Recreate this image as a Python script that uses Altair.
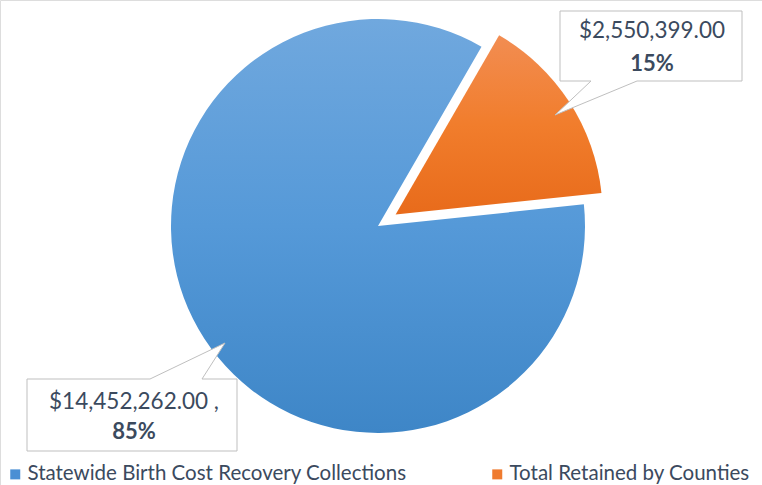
import math
import altair as alt
import pandas as pd

# ---- data ----
categories = ["Statewide Birth Cost Recovery Collections", "Total Retained by Counties"]
amounts = [14452262.00, 2550399.00]
amount_labels = ["$14,452,262.00 ,", "$2,550,399.00"]

legend_colors = ["#4a8fd4", "#ef7b2f"]

# ---- layout (pixels) ----
W, H = 762, 485
CX, CY, R = 378, 226, 207
START_DEG = 84.0          # blue slice begins here (clockwise from 12 o'clock)
EXPLODE = 21
FONT = "Lato"
TXT = "#3b4a5e"

total = sum(amounts)
a0 = math.radians(START_DEG)
frac_blue = amounts[0] / total
frac_orange = amounts[1] / total
mid = a0 + 2 * math.pi * (frac_blue + frac_orange / 2)
ox = EXPLODE * math.sin(mid)
oy = -EXPLODE * math.cos(mid)

pcts = [f"{round(100 * a / total)}%" for a in amounts]

df = pd.DataFrame({"category": categories, "amount": amounts, "order": [0, 1]})

theta_scale = alt.Scale(domain=[0, total], range=[a0, a0 + 2 * math.pi])

base = alt.Chart(df).transform_stack(
    stack="amount", groupby=[], as_=["start", "end"], sort=[alt.SortField("order")]
)

blue_grad = alt.LinearGradient(
    gradient="linear", x1=0, x2=0, y1=0, y2=1,
    stops=[alt.GradientStop(offset=0, color="#70a8de"),
           alt.GradientStop(offset=0.5, color="#5599d8"),
           alt.GradientStop(offset=1, color="#3e86c7")],
)
orange_grad = alt.LinearGradient(
    gradient="linear", x1=0, x2=0, y1=0, y2=1,
    stops=[alt.GradientStop(offset=0, color="#f28d52"),
           alt.GradientStop(offset=0.5, color="#f17d2c"),
           alt.GradientStop(offset=1, color="#e86b1b")],
)

blue = base.transform_filter(alt.datum.order == 0).mark_arc(
    outerRadius=R, fill=blue_grad
).encode(
    theta=alt.Theta("start:Q", scale=theta_scale),
    theta2="end:Q",
    x=alt.value(CX), y=alt.value(CY),
)

orange = base.transform_filter(alt.datum.order == 1).mark_arc(
    outerRadius=R, fill=orange_grad
).encode(
    theta=alt.Theta("start:Q", scale=theta_scale),
    theta2="end:Q",
    x=alt.value(CX + ox), y=alt.value(CY + oy),
)

legend_layer = alt.Chart(df).mark_square(opacity=0).encode(
    x=alt.value(0), y=alt.value(0),
    color=alt.Color(
        "category:N",
        scale=alt.Scale(domain=categories, range=legend_colors),
        legend=alt.Legend(
            title=None, orient="none", direction="horizontal",
            legendX=5, legendY=464,
            symbolType="square", symbolSize=100, symbolOpacity=1, symbolStrokeWidth=0,
            labelFont=FONT, labelFontSize=20.5, labelColor=TXT, labelLimit=500,
            labelOffset=2, columnPadding=80,
        ),
    ),
)

# callout shapes (custom symbol paths in pixel space; size=4 -> scale 1)
callout_paths = [
    "M27,379 L150,379 L225,343 L202,379 L237,379 L237,451 L27,451 Z",
    "M560,11 L742,11 L742,81 L637,81 L555,115 L591,81 L560,81 Z",
]
callouts = alt.layer(*[
    alt.Chart(pd.DataFrame({"k": [i]})).mark_point(
        shape=p, size=4, filled=True, fill="white", stroke="#bfbfbf",
        strokeWidth=1, opacity=1,
    ).encode(x=alt.value(0), y=alt.value(0))
    for i, p in enumerate(callout_paths)
])

label_pos = [(134, 409, 439), (652, 38, 71)]
texts = []
for i in range(2):
    lx, y1, y2 = label_pos[i]
    t = pd.DataFrame({"amt": [amount_labels[i]], "pct": [pcts[i]]})
    texts.append(alt.Chart(t).mark_text(
        font=FONT, fontSize=22.5, color=TXT, align="center", baseline="alphabetic"
    ).encode(text="amt:N", x=alt.value(lx), y=alt.value(y1)))
    texts.append(alt.Chart(t).mark_text(
        font=FONT, fontSize=22, fontWeight="bold", color=TXT, align="center",
        baseline="alphabetic"
    ).encode(text="pct:N", x=alt.value(lx), y=alt.value(y2)))

chart = alt.layer(blue, orange, legend_layer, callouts, *texts).properties(
    width=W, height=H, padding=0, autosize=alt.AutoSizeParams(type="none")
).configure_view(stroke=None).configure(background="white")

chart.save("out.html", embed_options={"renderer": "svg", "actions": False})
